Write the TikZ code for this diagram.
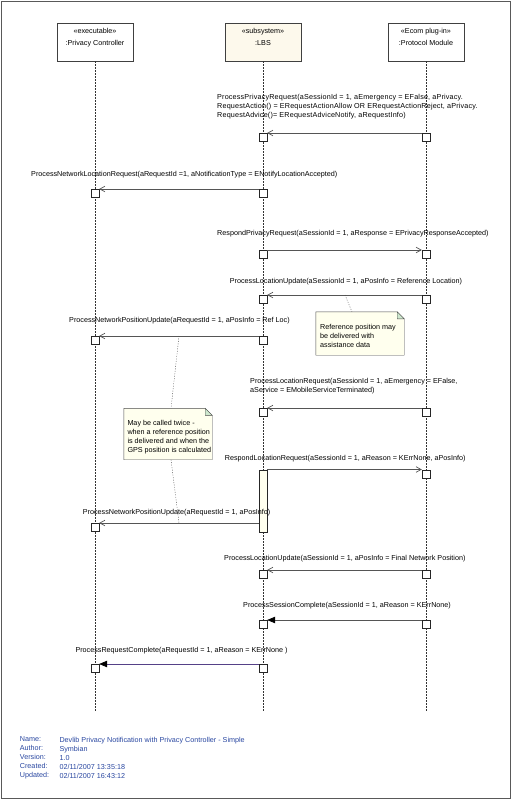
\documentclass[tikz,border=0pt]{standalone}
\usepackage{fontspec}
\setsansfont{Liberation Sans}
\usetikzlibrary{arrows.meta,shadows}
\definecolor{lbsfill}{RGB}{253,249,236}
\definecolor{notefill}{RGB}{255,255,238}
\definecolor{foldfill}{RGB}{206,232,206}
\definecolor{linegray}{RGB}{85,85,85}
\definecolor{infoblue}{RGB}{40,70,160}
\definecolor{lastline}{RGB}{85,65,135}
\begin{document}
\begin{tikzpicture}[x=1pt, y=-1pt, font=\sffamily\fontsize{7.2}{9}\selectfont,
    head/.style={draw=black!75, fill=white, minimum width=76pt, minimum height=38.5pt, inner sep=0pt,
      drop shadow={shadow xshift=1pt, shadow yshift=-1pt, fill=black!35, opacity=1}},
    htext/.style={anchor=north, align=center, inner sep=0pt, font=\sffamily\fontsize{7.2}{12.5}\selectfont},
    life/.style={draw=black!80, dash pattern=on 1.5pt off 1.5pt},
    act/.style={draw=black!85, fill=white, minimum width=8pt, minimum height=8pt, inner sep=0pt, anchor=north},
    msg/.style={draw=linegray, line width=0.7pt},
    open/.style={msg, -{Straight Barb[length=5pt, width=5.5pt]}},
    full/.style={msg, -{Triangle[length=8pt, width=6.5pt, color=black, fill=black]}},
    lbl/.style={anchor=west, inner sep=0pt, align=left},
    note/.style={minimum width=88pt, inner sep=0pt},
    link/.style={draw=black!70, dash pattern=on 1pt off 1.5pt},
    info/.style={anchor=west, inner sep=0pt, align=left, text=infoblue}]
  \useasboundingbox (0,0) rectangle (512,800);
  \draw[black!65, line width=0.8pt] (1.5,1.5) rectangle (510.5,798.5);

  \node[head] (pc) at (95,42) {};
  \node[htext] at ([yshift=-5.5pt]pc.north) {«executable»\\:Privacy Controller};
  \node[head, fill=lbsfill] (lbs) at (263,42) {};
  \node[htext] at ([yshift=-5.5pt]lbs.north) {«subsystem»\\:LBS};
  \node[head] (pm) at (426,42) {};
  \node[htext] at ([yshift=-5.5pt]pm.north) {«Ecom plug-in»\\:Protocol Module};

  \coordinate (pcend) at (95,712);
  \coordinate (lbsend) at (263,712);
  \coordinate (pmend) at (426,712);
  \draw[life] (pc) -- (pcend);
  \draw[life] (lbs) -- (lbsend);
  \draw[life] (pm) -- (pmend);

  \node[act] (b1p) at (426,133) {};
  \node[act] (b1l) at (263,133) {};
  \draw[open] (b1p.north west) -- (b1l.north east);
  \node[lbl, font=\sffamily\fontsize{7.2}{9}\selectfont\addfontfeature{LetterSpace=2.5}] (t1) at (217,107) {ProcessPrivacyRequest(aSessionId = 1, aEmergency = EFalse, aPrivacy.\\RequestAction() = ERequestActionAllow OR ERequestActionReject, aPrivacy.\\RequestAdvice()= ERequestAdviceNotify, aRequestInfo)};

  \node[act] (b2l) at (263,189) {};
  \node[act] (b2c) at (95,189) {};
  \draw[open] (b2l.north west) -- (b2c.north east);
  \node[lbl] (t2) at (31,175) {ProcessNetworkLocationRequest(aRequestId =1, aNotificationType = ENotifyLocationAccepted)};

  \node[act] (b3l) at (263,250) {};
  \node[act] (b3p) at (426,250) {};
  \draw[open] (b3l.north east) -- (b3p.north west);
  \node[lbl] (t3) at (217,233.5) {RespondPrivacyRequest(aSessionId = 1, aResponse = EPrivacyResponseAccepted)};

  \node[act] (b4p) at (426,295) {};
  \node[act] (b4l) at (263,295) {};
  \draw[open] (b4p.north west) -- (b4l.north east);
  \node[lbl] (t4) at (229.7,281.5) {ProcessLocationUpdate(aSessionId = 1, aPosInfo = Reference Location)};

  \node[note, minimum height=43pt] (n1) at (360,333.5) {};
  \draw[black!70, fill=notefill] (n1.north west) -- ([xshift=-7pt]n1.north east) -- ([yshift=-7pt]n1.north east)
    -- (n1.south east) -- (n1.south west) -- cycle;
  \draw[black!70, fill=foldfill] ([xshift=-7pt]n1.north east) -- ([xshift=-7pt, yshift=-7pt]n1.north east)
    -- ([yshift=-7pt]n1.north east) -- cycle;
  \node[lbl] (n1t) at (320,336) {Reference position may\\be delivered with\\assistance data};
  \coordinate (c4) at (345,295);
  \draw[link] (c4) -- ([xshift=-8pt]n1.north);

  \node[act] (b5l) at (263,336) {};
  \node[act] (b5c) at (95,336) {};
  \draw[open] (b5l.north west) -- (b5c.north east);
  \node[lbl] (t5) at (69,321) {ProcessNetworkPositionUpdate(aRequestId = 1, aPosInfo = Ref Loc)};

  \node[act] (b6p) at (426,408) {};
  \node[act] (b6l) at (263,408) {};
  \draw[open] (b6p.north west) -- (b6l.north east);
  \node[lbl] (t6) at (250,386.5) {ProcessLocationRequest(aSessionId = 1, aEmergency = EFalse,\\aService = EMobileServiceTerminated)};

  \node[note, minimum height=51pt] (n2) at (168,434) {};
  \draw[black!70, fill=notefill] (n2.north west) -- ([xshift=-7pt]n2.north east) -- ([yshift=-7pt]n2.north east)
    -- (n2.south east) -- (n2.south west) -- cycle;
  \draw[black!70, fill=foldfill] ([xshift=-7pt]n2.north east) -- ([xshift=-7pt, yshift=-7pt]n2.north east)
    -- ([yshift=-7pt]n2.north east) -- cycle;
  \node[lbl] (n2t) at (127.3,436.7) {May be called twice -\\when a reference position\\is delivered and when the\\GPS position is calculated};
  \coordinate (c5) at (179,336);
  \coordinate (c8) at (179,523);
  \draw[link] (c5) -- ([xshift=3pt]n2.north);
  \draw[link] ([xshift=3pt]n2.south) -- (c8);

  \node[act, minimum height=62pt, fill=notefill] (b7l) at (263,469.5) {};
  \node[act] (b7p) at (426,469.5) {};
  \draw[open] (b7l.north east) -- (b7p.north west);
  \node[lbl] (t7) at (224.7,459) {RespondLocationRequest(aSessionId = 1, aReason = KErrNone, aPosInfo)};

  \node[act] (b8c) at (95,523) {};
  \draw[open] (b7l.west |- b8c.north) -- (b8c.north east);
  \node[lbl] (t8) at (82.7,512.8) {ProcessNetworkPositionUpdate(aRequestId = 1, aPosInfo)};

  \node[act] (b9p) at (426,570) {};
  \node[act] (b9l) at (263,570) {};
  \draw[open] (b9p.north west) -- (b9l.north east);
  \node[lbl] (t9) at (224,559) {ProcessLocationUpdate(aSessionId = 1, aPosInfo = Final Network Position)};

  \node[act] (b10p) at (426,620) {};
  \node[act] (b10l) at (263,620) {};
  \draw[full] (b10p.north west) -- (b10l.north east);
  \node[lbl] (t10) at (243,606) {ProcessSessionComplete(aSessionId = 1, aReason = KErrNone)};

  \node[act] (b11l) at (263,664) {};
  \node[act] (b11c) at (95,664) {};
  \draw[full, draw=lastline] (b11l.north west) -- (b11c.north east);
  \node[lbl] (t11) at (75.3,651) {ProcessRequestComplete(aRequestId = 1, aReason = KErrNone )};

  \node[info] (keys) at (19.7,758) {Name:\\Author:\\Version:\\Created:\\Updated:};
  \node[info] (vals) at (59.3,758) {Devlib Privacy Notification with Privacy Controller - Simple\\Symbian\\1.0\\02/11/2007 13:35:18\\02/11/2007 16:43:12};
\end{tikzpicture}
\end{document}
